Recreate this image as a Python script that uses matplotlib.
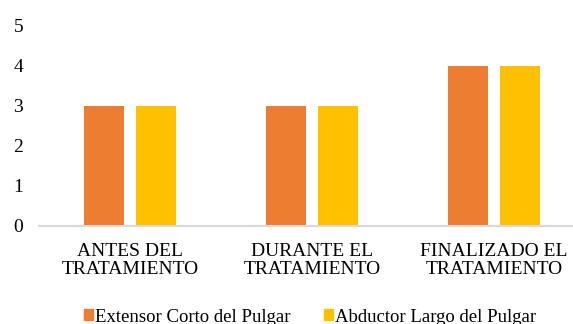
import matplotlib
matplotlib.use("Agg")
import matplotlib.pyplot as plt
import numpy as np
from matplotlib.patches import Patch

categories = ["ANTES DEL\nTRATAMIENTO", "DURANTE EL\nTRATAMIENTO", "FINALIZADO EL\nTRATAMIENTO"]
series_names = ["Extensor Corto del Pulgar", "Abductor Largo del Pulgar"]
extensor = [3, 3, 4]
abductor = [3, 3, 4]
y_ticks = [0, 1, 2, 3, 4, 5]

colors = ["#ED7D31", "#FFC000"]

plt.rcParams["font.family"] = ["Liberation Serif", "DejaVu Serif"]

W, H = 573, 324
fig = plt.figure(figsize=(W / 100, H / 100), dpi=100)
# axes extends past the right edge of the canvas
left, right, bottom, top = 39, 585, 226, 26
ax = fig.add_axes([left / W, 1 - bottom / H, (right - left) / W, (bottom - top) / H])

x = np.arange(len(categories))
bw = 0.22
off = 0.143
ax.bar(x - off, extensor, bw, color=colors[0])
ax.bar(x + off, abductor, bw, color=colors[1])

fs = 14
ax.set_xlim(-0.5, len(categories) - 0.5)
ax.set_ylim(0, 5)
ax.set_yticks(y_ticks)
ax.set_yticklabels([str(v) for v in y_ticks], fontsize=fs)
ax.set_xticks(x)
ax.set_xticklabels(categories, fontsize=fs, linespacing=1.08)
ax.tick_params(axis="both", length=0, colors="#000000")
ax.tick_params(axis="y", pad=11.5)
ax.tick_params(axis="x", pad=12)

for s in ["top", "right", "left"]:
    ax.spines[s].set_visible(False)
ax.spines["bottom"].set_color("#D9D9D9")
ax.spines["bottom"].set_linewidth(1.5)

handles = [Patch(color=c) for c in colors]
fig.legend(handles, series_names, loc="center", bbox_to_anchor=(310 / W, 1 - 317 / H),
           ncol=2, frameon=False, fontsize=13.5, handlelength=0.52, handleheight=0.52,
           handletextpad=0.1, columnspacing=1.75)

fig.savefig("out.png", dpi=100)
